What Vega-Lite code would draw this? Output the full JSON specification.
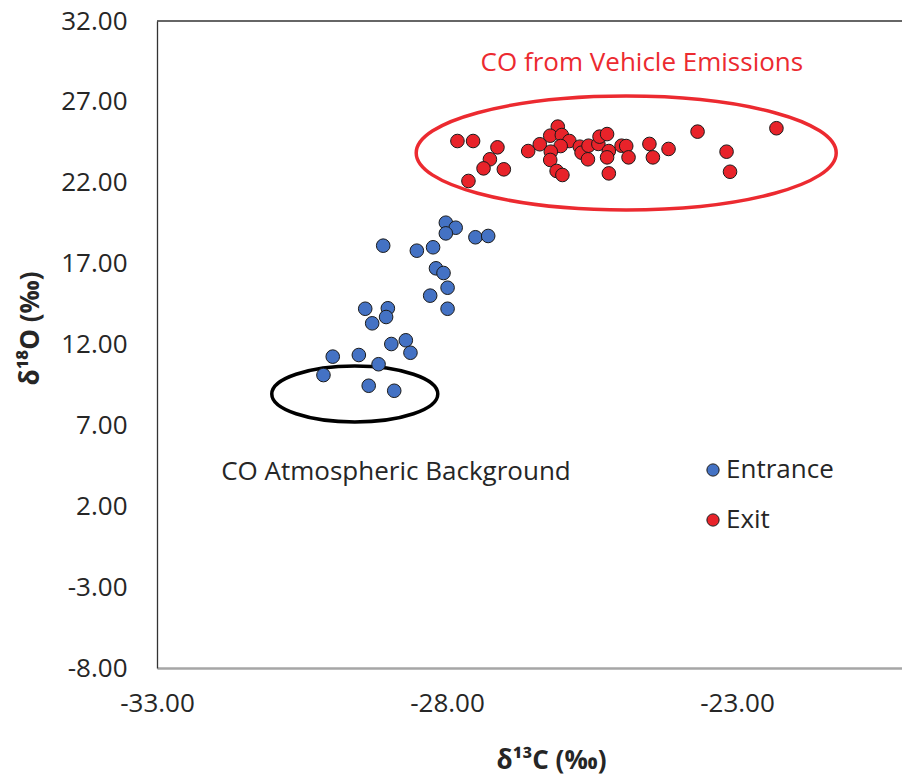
{
  "$schema": "https://vega.github.io/schema/vega-lite/v6.json",
  "width": 745,
  "height": 647,
  "autosize": "none",
  "padding": {"left": 157, "top": 21, "right": 0, "bottom": 108},
  "background": "white",
  "config": {"view": {"stroke": null}, "font": "Open Sans"},
  "datasets": {
    "points": [
      {"group": "Entrance", "d13C": -28.02, "d18O": 19.53},
      {"group": "Entrance", "d13C": -27.85, "d18O": 19.22},
      {"group": "Entrance", "d13C": -28.02, "d18O": 18.87},
      {"group": "Entrance", "d13C": -27.51, "d18O": 18.63},
      {"group": "Entrance", "d13C": -27.29, "d18O": 18.71},
      {"group": "Entrance", "d13C": -29.10, "d18O": 18.11},
      {"group": "Entrance", "d13C": -28.52, "d18O": 17.80},
      {"group": "Entrance", "d13C": -28.24, "d18O": 18.01},
      {"group": "Entrance", "d13C": -28.19, "d18O": 16.71},
      {"group": "Entrance", "d13C": -28.06, "d18O": 16.42},
      {"group": "Entrance", "d13C": -27.99, "d18O": 15.51},
      {"group": "Entrance", "d13C": -28.29, "d18O": 15.02},
      {"group": "Entrance", "d13C": -27.99, "d18O": 14.21},
      {"group": "Entrance", "d13C": -29.41, "d18O": 14.21},
      {"group": "Entrance", "d13C": -29.02, "d18O": 14.24},
      {"group": "Entrance", "d13C": -29.05, "d18O": 13.70},
      {"group": "Entrance", "d13C": -29.29, "d18O": 13.31},
      {"group": "Entrance", "d13C": -28.96, "d18O": 12.03},
      {"group": "Entrance", "d13C": -28.71, "d18O": 12.26},
      {"group": "Entrance", "d13C": -28.63, "d18O": 11.49},
      {"group": "Entrance", "d13C": -29.97, "d18O": 11.25},
      {"group": "Entrance", "d13C": -29.52, "d18O": 11.35},
      {"group": "Entrance", "d13C": -29.18, "d18O": 10.78},
      {"group": "Entrance", "d13C": -30.13, "d18O": 10.11},
      {"group": "Entrance", "d13C": -29.35, "d18O": 9.45},
      {"group": "Entrance", "d13C": -28.91, "d18O": 9.14},
      {"group": "Exit", "d13C": -27.82, "d18O": 24.58},
      {"group": "Exit", "d13C": -27.55, "d18O": 24.58},
      {"group": "Exit", "d13C": -27.13, "d18O": 24.19},
      {"group": "Exit", "d13C": -27.26, "d18O": 23.45},
      {"group": "Exit", "d13C": -27.37, "d18O": 22.89},
      {"group": "Exit", "d13C": -27.02, "d18O": 22.83},
      {"group": "Exit", "d13C": -27.63, "d18O": 22.11},
      {"group": "Exit", "d13C": -26.60, "d18O": 23.96},
      {"group": "Exit", "d13C": -26.40, "d18O": 24.38},
      {"group": "Exit", "d13C": -26.09, "d18O": 25.47},
      {"group": "Exit", "d13C": -26.22, "d18O": 24.91},
      {"group": "Exit", "d13C": -26.02, "d18O": 24.95},
      {"group": "Exit", "d13C": -25.89, "d18O": 24.58},
      {"group": "Exit", "d13C": -26.04, "d18O": 24.27},
      {"group": "Exit", "d13C": -26.21, "d18O": 23.92},
      {"group": "Exit", "d13C": -26.22, "d18O": 23.41},
      {"group": "Exit", "d13C": -26.11, "d18O": 22.73},
      {"group": "Exit", "d13C": -26.01, "d18O": 22.48},
      {"group": "Exit", "d13C": -25.71, "d18O": 24.23},
      {"group": "Exit", "d13C": -25.68, "d18O": 23.86},
      {"group": "Exit", "d13C": -25.56, "d18O": 24.29},
      {"group": "Exit", "d13C": -25.57, "d18O": 23.45},
      {"group": "Exit", "d13C": -25.39, "d18O": 24.40},
      {"group": "Exit", "d13C": -25.37, "d18O": 24.85},
      {"group": "Exit", "d13C": -25.24, "d18O": 25.01},
      {"group": "Exit", "d13C": -25.21, "d18O": 23.96},
      {"group": "Exit", "d13C": -25.24, "d18O": 23.57},
      {"group": "Exit", "d13C": -25.21, "d18O": 22.58},
      {"group": "Exit", "d13C": -24.99, "d18O": 24.29},
      {"group": "Exit", "d13C": -24.91, "d18O": 24.27},
      {"group": "Exit", "d13C": -24.87, "d18O": 23.57},
      {"group": "Exit", "d13C": -24.51, "d18O": 24.40},
      {"group": "Exit", "d13C": -24.45, "d18O": 23.57},
      {"group": "Exit", "d13C": -24.18, "d18O": 24.09},
      {"group": "Exit", "d13C": -23.68, "d18O": 25.16},
      {"group": "Exit", "d13C": -23.18, "d18O": 23.92},
      {"group": "Exit", "d13C": -23.12, "d18O": 22.68},
      {"group": "Exit", "d13C": -22.32, "d18O": 25.37}
    ],
    "vehicleEllipse": [{"d13C": -24.91, "d18O": 23.84}],
    "backgroundEllipse": [{"d13C": -29.59, "d18O": 8.94}],
    "vehicleLabel": [{"d13C": -24.64, "d18O": 29.40, "label": "CO from Vehicle Emissions"}],
    "backgroundLabel": [{"d13C": -28.88, "d18O": 4.12, "label": "CO Atmospheric Background"}]
  },
  "layer": [
    {
      "data": {"name": "vehicleEllipse"},
      "mark": {"type": "point", "shape": "M -1 0 A 1 0.271 0 1 0 1 0 A 1 0.271 0 1 0 -1 0 Z", "size": 176400, "filled": false, "stroke": "#EC2A30", "strokeWidth": 3.5, "opacity": 1},
      "encoding": {
        "x": {
          "field": "d13C", "type": "quantitative",
          "scale": {"domain": [-33, -20.155], "nice": false, "zero": false},
          "axis": {
            "title": "δ¹³C (‰)", "values": [-33, -28, -23], "format": ".2f",
            "labelExpr": "replace(datum.label, '−', '-')",
            "ticks": false, "grid": false, "domainColor": "#A6A6A6", "domainWidth": 2.5,
            "labelFont": "Open Sans", "labelFontSize": 26, "labelColor": "#262626", "labelPadding": 22,
            "labelFlush": false, "labelOverlap": false,
            "titleFont": "Open Sans", "titleFontSize": 26, "titleFontWeight": "bold", "titleColor": "#262626",
            "titleX": 394, "titleY": 100, "titleBaseline": "alphabetic", "titleAlign": "center", "titleAnchor": null
          }
        },
        "y": {
          "field": "d18O", "type": "quantitative",
          "scale": {"domain": [-8, 32], "nice": false, "zero": false},
          "axis": {
            "title": "δ¹⁸O (‰)", "values": [-8, -3, 2, 7, 12, 17, 22, 27, 32], "format": ".2f",
            "labelExpr": "replace(datum.label, '−', '-')",
            "ticks": false, "grid": false, "domainColor": "#333333", "domainWidth": 1.3,
            "labelFont": "Open Sans", "labelFontSize": 26, "labelColor": "#262626", "labelPadding": 30,
            "labelFlush": false, "labelOverlap": false,
            "titleFont": "Open Sans", "titleFontSize": 26, "titleFontWeight": "bold", "titleColor": "#262626",
            "titleX": -127, "titleY": 307, "titleAngle": -90, "titleAlign": "center", "titleBaseline": "middle", "titleAnchor": null
          }
        }
      }
    },
    {
      "data": {"name": "backgroundEllipse"},
      "mark": {"type": "point", "shape": "M -1 0 A 1 0.337 0 1 0 1 0 A 1 0.337 0 1 0 -1 0 Z", "size": 27556, "filled": false, "stroke": "#000000", "strokeWidth": 3.5, "opacity": 1},
      "encoding": {
        "x": {"field": "d13C", "type": "quantitative"},
        "y": {"field": "d18O", "type": "quantitative"}
      }
    },
    {
      "data": {"values": [{"d18O": 32}]},
      "mark": {"type": "rule", "color": "#333333", "strokeWidth": 1.5},
      "encoding": {"y": {"field": "d18O", "type": "quantitative"}}
    },
    {
      "data": {"name": "points"},
      "mark": {"type": "point", "shape": "circle", "filled": true, "size": 185, "stroke": "#1a1a1a", "strokeWidth": 1, "opacity": 1},
      "encoding": {
        "x": {"field": "d13C", "type": "quantitative"},
        "y": {"field": "d18O", "type": "quantitative"},
        "color": {
          "field": "group", "type": "nominal",
          "scale": {"domain": ["Entrance", "Exit"], "range": ["#4472C4", "#E8232A"]},
          "legend": {
            "title": null, "orient": "none", "legendX": 543, "legendY": 436,
            "symbolType": "circle", "symbolSize": 150, "symbolStrokeColor": "#1a1a1a", "symbolStrokeWidth": 1,
            "labelFont": "Open Sans", "labelFontSize": 26, "labelColor": "#262626", "labelOffset": 0,
            "rowPadding": 24, "padding": 0
          }
        }
      }
    },
    {
      "data": {"name": "vehicleLabel"},
      "mark": {"type": "text", "font": "Open Sans", "fontSize": 26, "color": "#EC2A30", "align": "center", "baseline": "middle"},
      "encoding": {
        "x": {"field": "d13C", "type": "quantitative"},
        "y": {"field": "d18O", "type": "quantitative"},
        "text": {"field": "label"}
      }
    },
    {
      "data": {"name": "backgroundLabel"},
      "mark": {"type": "text", "font": "Open Sans", "fontSize": 26, "color": "#262626", "align": "center", "baseline": "middle"},
      "encoding": {
        "x": {"field": "d13C", "type": "quantitative"},
        "y": {"field": "d18O", "type": "quantitative"},
        "text": {"field": "label"}
      }
    }
  ]
}
